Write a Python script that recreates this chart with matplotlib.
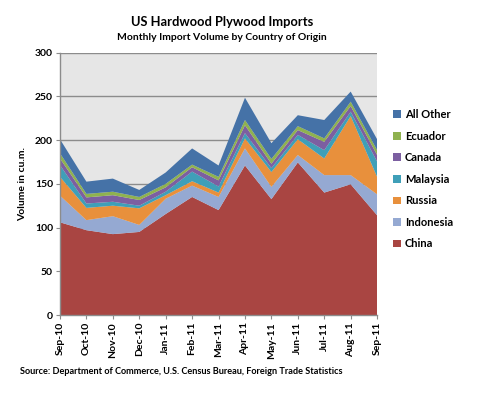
import numpy as np
import matplotlib.pyplot as plt
from matplotlib.patches import Patch

# cumulative tops, converted to per-country volumes below
months = ['Sep-10', 'Oct-10', 'Nov-10', 'Dec-10', 'Jan-11', 'Feb-11', 'Mar-11',
          'Apr-11', 'May-11', 'Jun-11', 'Jul-11', 'Aug-11', 'Sep-11']
china = [106, 97, 92.5, 95, 115.5, 135, 120, 171, 132.5, 174.5, 140, 149.5, 114]
indonesia = [30.5, 11.5, 20.5, 8, 17.5, 13, 15, 19.5, 14, 8.5, 20, 10.5, 24]
russia = [21.5, 14, 12, 19, 4, 5, 5, 11.5, 17, 18, 19, 67.5, 20]
malaysia = [13.5, 5, 4.5, 3, 4, 11, 7, 6, 4.5, 5, 9.5, 5, 17.5]
canada = [7.5, 7, 7.5, 6.5, 5, 5, 7, 9, 5, 5.5, 9.5, 6.5, 7.5]
ecuador = [6, 4, 4, 3.5, 4, 3, 4, 6, 5.5, 4.5, 4, 5, 5.5]
all_other = [16, 14, 15, 8, 13, 18.5, 13, 25.5, 18, 12.5, 21, 11.5, 12.5]

series = ['China', 'Indonesia', 'Russia', 'Malaysia', 'Canada', 'Ecuador', 'All Other']
colors = ['#A94542', '#95A9D2', '#E8903C', '#3F9FB8', '#7C5FA1', '#8FB24F', '#4572A7']

plt.rcParams['font.family'] = ['Lato', 'DejaVu Sans']
plt.rcParams['font.weight'] = 'bold'

fig = plt.figure(figsize=(4.81, 3.94), dpi=100)
ax = fig.add_axes([0.1247, 0.2005, 0.6593, 0.6658])

x = np.arange(len(months))
ax.stackplot(x, china, indonesia, russia, malaysia, canada, ecuador, all_other,
             colors=colors, linewidth=0)

ax.set_facecolor('#E6E6E6')
ax.set_xlim(0, len(months) - 1)
ax.set_ylim(0, 300)
ax.set_yticks(range(0, 301, 50))
ax.yaxis.grid(True, color='#8C8C8C', linewidth=1)
ax.set_axisbelow(True)
ax.set_xticks(x)
ax.set_xticklabels(months, rotation=90, fontsize=7.5, fontweight='bold')
ax.tick_params(axis='y', labelsize=7.5, length=3, color='#8C8C8C', pad=2)
ax.tick_params(axis='x', length=3, color='#8C8C8C', pad=2)
for lab in ax.get_yticklabels():
    lab.set_fontweight('bold')
for s in ['top', 'right']:
    ax.spines[s].set_visible(False)
for s in ['left', 'bottom']:
    ax.spines[s].set_color('#8C8C8C')
    ax.spines[s].set_linewidth(1)

ax.set_ylabel('Volume in cu.m.', fontsize=7.5, fontweight='bold', labelpad=6)

fig.text(0.462, 0.944, 'US Hardwood Plywood Imports', ha='center', va='center',
         fontsize=9.3, fontweight='bold')
fig.text(0.462, 0.906, 'Monthly Import Volume by Country of Origin', ha='center',
         va='center', fontsize=7.5, fontweight='bold')
fig.text(0.042, 0.058, 'Source: Department of Commerce, U.S. Census Bureau, Foreign Trade Statistics',
         ha='left', va='center', fontsize=6.6, fontweight='bold')

handles = [Patch(facecolor=c) for c in colors][::-1]
fig.legend(handles, series[::-1], loc='center left', bbox_to_anchor=(0.796, 0.545),
           frameon=False, handlelength=0.7, handleheight=0.7,
           handletextpad=0.4, labelspacing=0.95, prop={'weight': 'bold', 'size': 8})

fig.savefig('out.png', dpi=100)
